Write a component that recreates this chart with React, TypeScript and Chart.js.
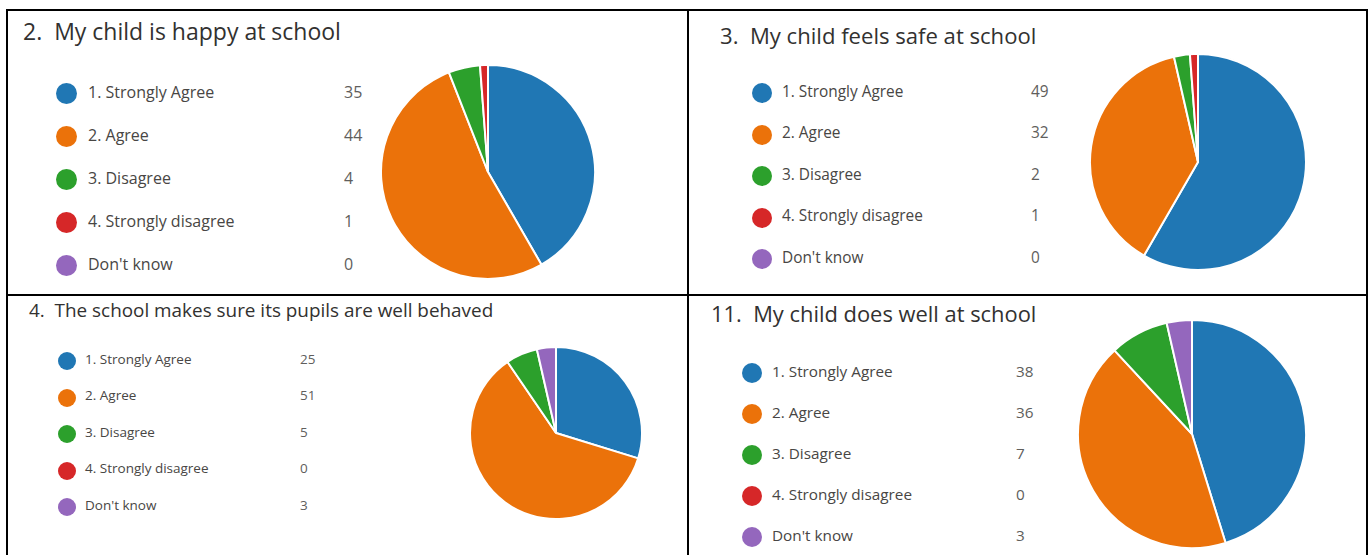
import React, { useEffect, useRef } from 'react';
import { Chart, registerables } from 'chart.js';

Chart.register(...registerables);

// ---- data ----
const categories = ['1. Strongly Agree', '2. Agree', '3. Disagree', '4. Strongly disagree', "Don't know"];
const happyValues = [35, 44, 4, 1, 0];
const safeValues = [49, 32, 2, 1, 0];
const behavedValues = [25, 51, 5, 0, 3];
const doesWellValues = [38, 36, 7, 0, 3];
const titles = [
  '2.  My child is happy at school',
  '3.  My child feels safe at school',
  '4.  The school makes sure its pupils are well behaved',
  '11.  My child does well at school',
];

// ---- styles ----
const palette = ['#2077B4', '#EB720A', '#2CA02C', '#D62728', '#9467BD'];
const FONT = '"Open Sans", "Noto Sans", sans-serif';

type PanelLayout = {
  titleX: number; titleY: number; titleSize: number;
  dotX: number; rowY0: number; rowStep: number; dotD: number;
  labelX: number; labelSize: number; countX: number;
  cx: number; cy: number; r: number;
};

const layouts: PanelLayout[] = [
  { titleX: 23, titleY: 31, titleSize: 23, dotX: 66.5, rowY0: 93, rowStep: 43, dotD: 21, labelX: 88, labelSize: 16, countX: 344, cx: 487.5, cy: 171.5, r: 107 },
  { titleX: 720, titleY: 34.5, titleSize: 22.1, dotX: 761.5, rowY0: 93, rowStep: 41.5, dotD: 20, labelX: 782, labelSize: 15.4, countX: 1031, cx: 1198, cy: 162, r: 108 },
  { titleX: 29, titleY: 309.5, titleSize: 18.9, dotX: 66.5, rowY0: 361, rowStep: 36.5, dotD: 18, labelX: 85, labelSize: 13.5, countX: 300, cx: 556, cy: 433, r: 86 },
  { titleX: 711, titleY: 314, titleSize: 21.9, dotX: 752, rowY0: 373, rowStep: 41, dotD: 20, labelX: 772, labelSize: 15.3, countX: 1016, cx: 1192, cy: 433.5, r: 114 },
];

const panelValues = [happyValues, safeValues, behavedValues, doesWellValues];

function Pie({ values, cx, cy, r }: { values: number[]; cx: number; cy: number; r: number }) {
  const ref = useRef<HTMLCanvasElement>(null);
  const bw = 2;
  const size = Math.round(2 * r + bw);
  useEffect(() => {
    const chart = new Chart(ref.current!, {
      type: 'pie',
      data: {
        labels: categories,
        datasets: [{ data: values, backgroundColor: palette, borderColor: '#ffffff', borderWidth: bw }],
      },
      options: {
        responsive: false,
        animation: false,
        layout: { padding: 0 },
        plugins: { legend: { display: false }, tooltip: { enabled: false } },
      },
    });
    return () => chart.destroy();
  }, []);
  return (
    <canvas
      ref={ref}
      width={size}
      height={size}
      style={{ position: 'absolute', left: cx - size / 2, top: cy - size / 2, width: size, height: size }}
    />
  );
}

function Panel({ idx }: { idx: number }) {
  const L = layouts[idx];
  const values = panelValues[idx];
  const textBase: React.CSSProperties = {
    position: 'absolute',
    fontFamily: FONT,
    whiteSpace: 'pre',
    lineHeight: 1,
    transform: 'translateY(-50%)',
  };
  return (
    <>
      <div style={{ ...textBase, left: L.titleX, top: L.titleY, fontSize: L.titleSize, color: '#323130' }}>{titles[idx]}</div>
      {categories.map((c, i) => {
        const y = L.rowY0 + i * L.rowStep;
        return (
          <React.Fragment key={c}>
            <div
              style={{
                position: 'absolute',
                left: L.dotX - L.dotD / 2,
                top: y - L.dotD / 2,
                width: L.dotD,
                height: L.dotD,
                borderRadius: '50%',
                background: palette[i],
              }}
            />
            <div style={{ ...textBase, left: L.labelX, top: y - 1.5, fontSize: L.labelSize, color: '#484644' }}>{c}</div>
            <div style={{ ...textBase, left: L.countX, top: y - 1.5, fontSize: L.labelSize, color: '#605E5C' }}>{String(values[i])}</div>
          </React.Fragment>
        );
      })}
      <Pie values={values} cx={L.cx} cy={L.cy} r={L.r} />
    </>
  );
}

export default function App() {
  const line = (s: React.CSSProperties) => <div style={{ position: 'absolute', background: '#000', ...s }} />;
  return (
    <div style={{ position: 'fixed', left: 0, top: 0, width: 1370, height: 555, background: '#fff', overflow: 'hidden' }}>
      {[0, 1, 2, 3].map((i) => (
        <Panel key={i} idx={i} />
      ))}
      {line({ left: 6, top: 9, width: 1362, height: 2 })}
      {line({ left: 6, top: 294, width: 1362, height: 2 })}
      {line({ left: 6, top: 9, width: 2, height: 546 })}
      {line({ left: 687, top: 9, width: 2, height: 546 })}
      {line({ left: 1366, top: 9, width: 2, height: 546 })}
    </div>
  );
}
